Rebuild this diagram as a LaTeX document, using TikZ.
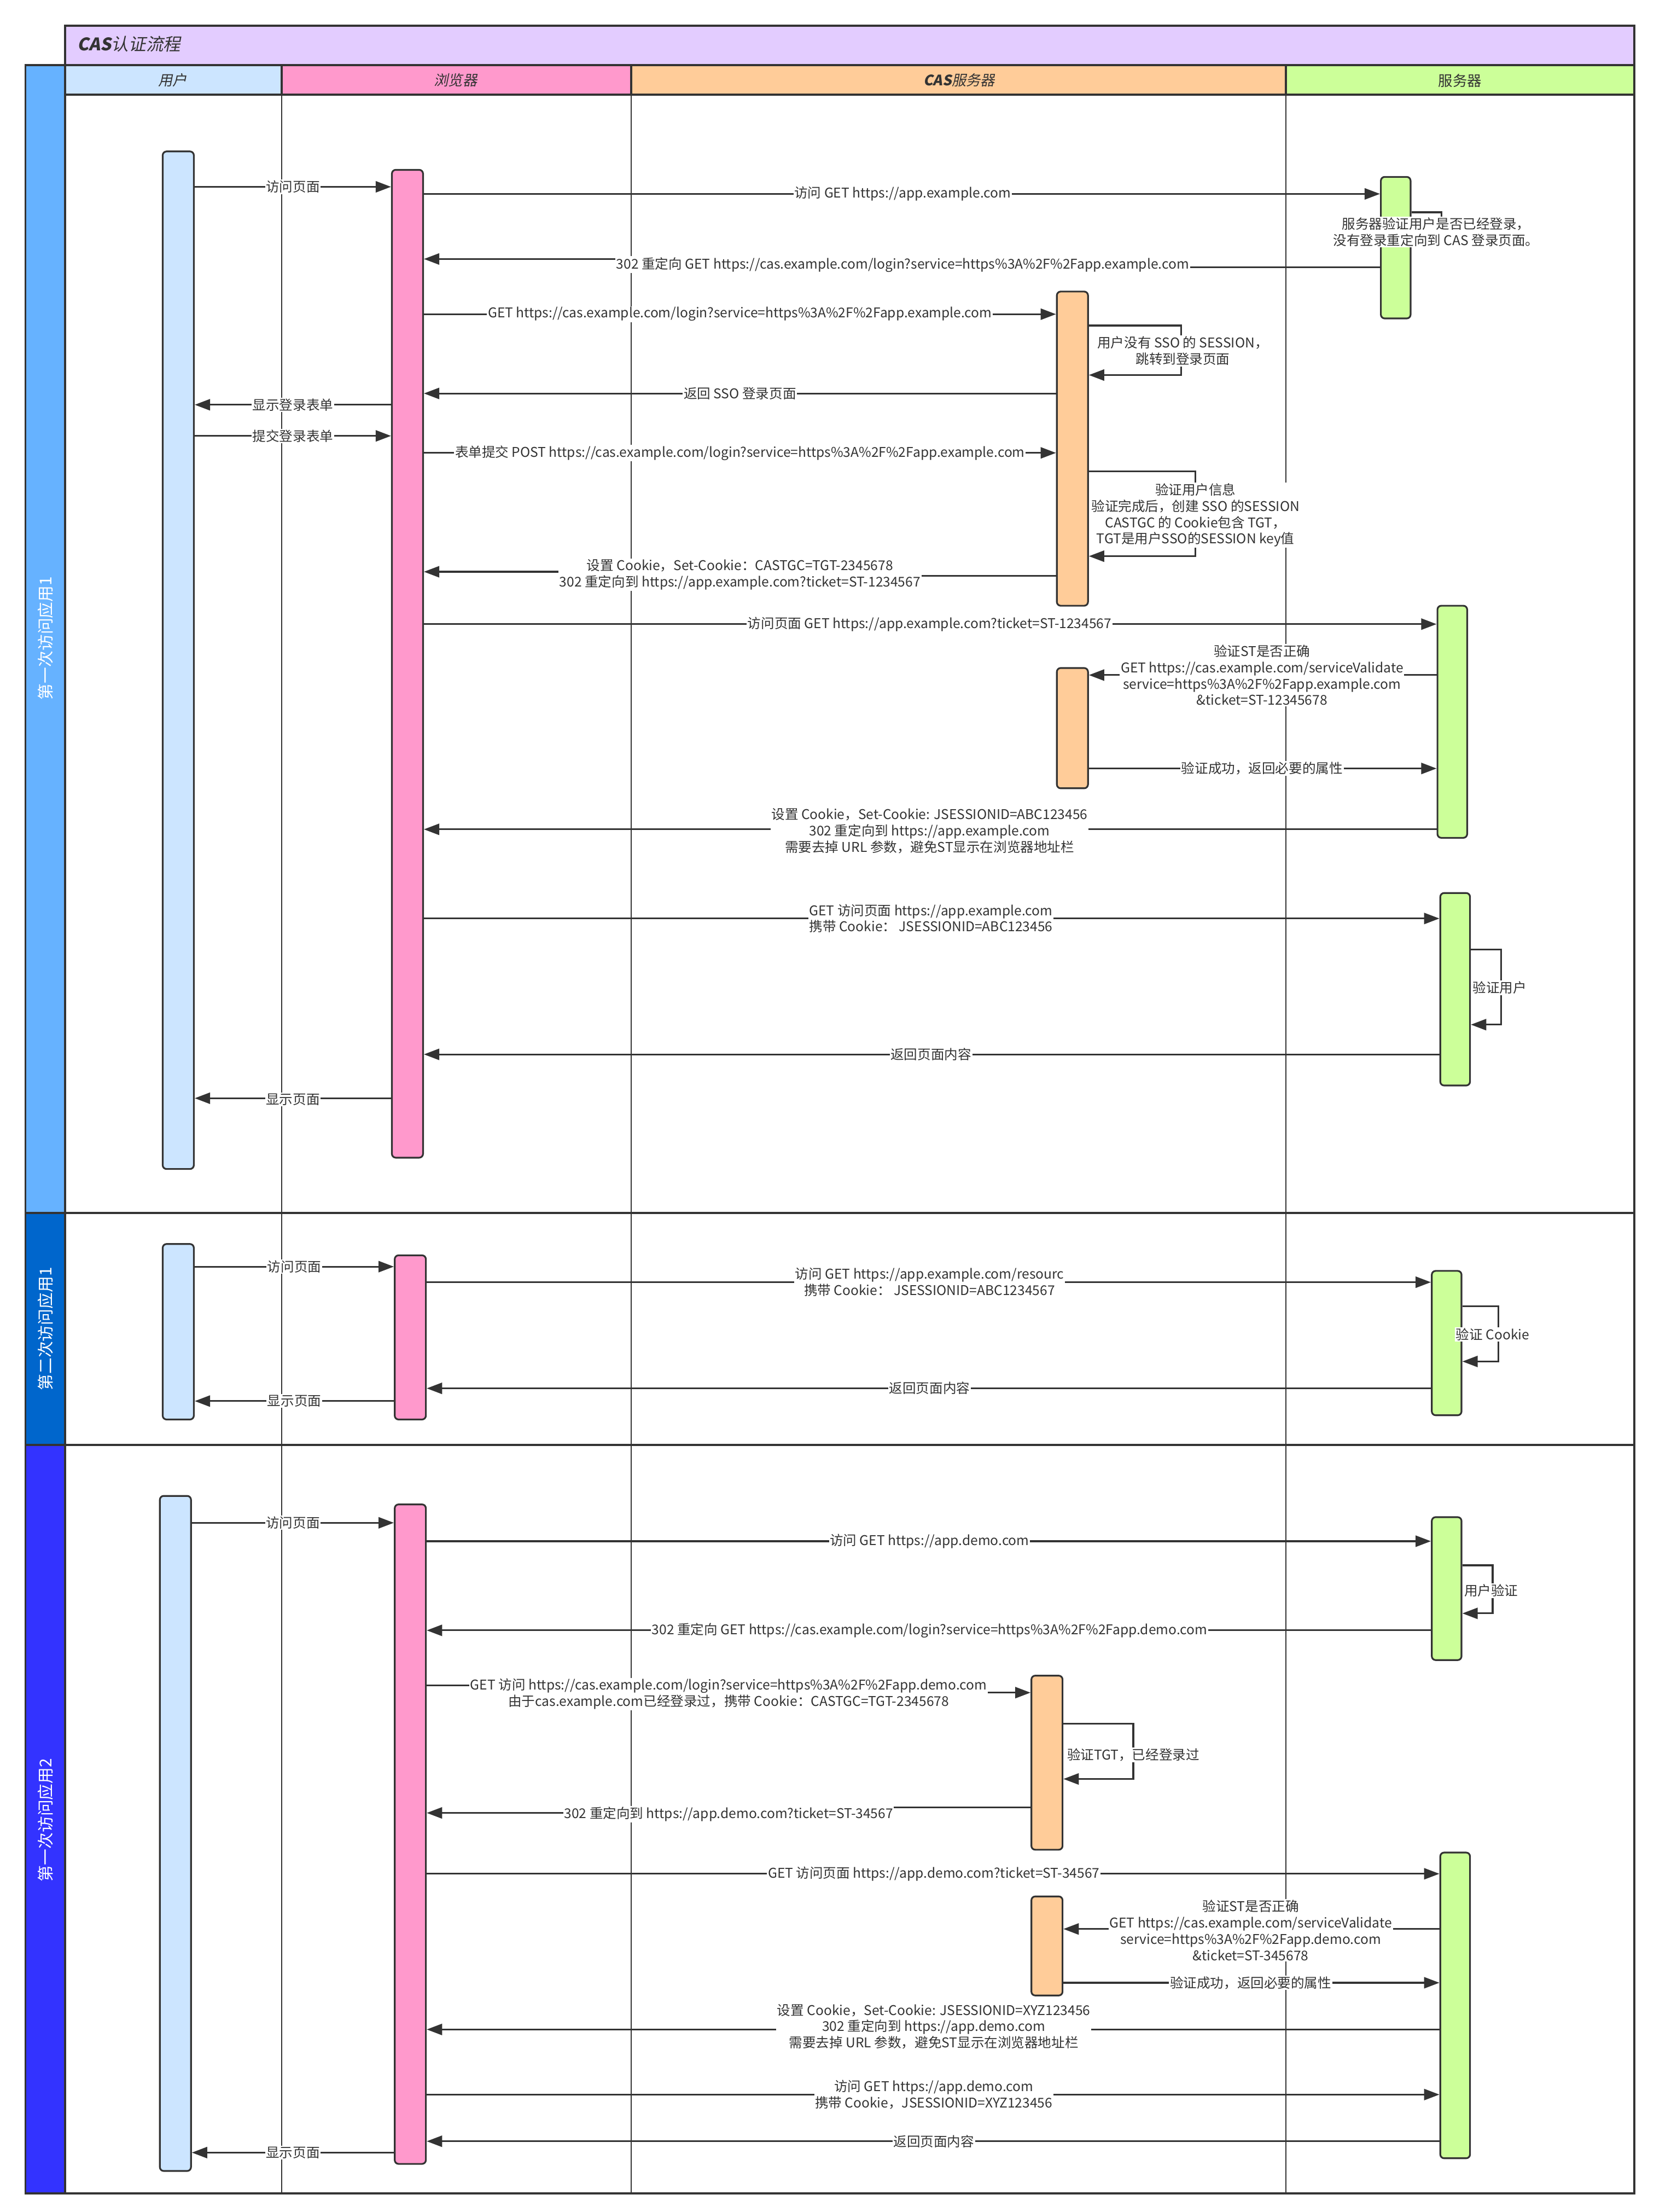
\documentclass[tikz,border=0pt]{standalone}
\usepackage{fontspec}
\setmainfont{Noto Sans CJK SC}
\newfontfamily\slantfont[FakeSlant=0.2]{Noto Sans CJK SC}
\usetikzlibrary{%
  arrows.meta,%
  fit%
}
\definecolor{ink}{HTML}{333333}
\definecolor{titlebg}{HTML}{E3CCFF}
\definecolor{userbg}{HTML}{CCE5FF}
\definecolor{browserbg}{HTML}{FF99CC}
\definecolor{casbg}{HTML}{FFCC99}
\definecolor{appbg}{HTML}{CCFF99}
\definecolor{bandone}{HTML}{66B2FF}
\definecolor{bandtwo}{HTML}{0066CC}
\definecolor{bandthree}{HTML}{3333FF}
\tikzset{>={Triangle[length=8pt,width=5.8pt]}}
\tikzset{
  act/.style={draw=ink,line width=0.9pt,rounded corners=2pt,inner sep=0pt},
  msg/.style={draw=ink,line width=0.9pt,->},
  lbl/.style={fill=white,inner sep=0.5pt,align=center,text=ink,font=\fontsize{7}{8.5}\selectfont},
  lane/.style={draw=ink,line width=0.6pt},
  frame/.style={draw=ink,line width=1.1pt},
  band/.style={text=white,rotate=90,font=\fontsize{8.5}{10}\selectfont},
  hdr/.style={text=ink,font=\fontsize{7.5}{9}\selectfont}
}

\begin{document}
\begin{tikzpicture}[x=0.0259cm,y=-0.0259cm]
    \useasboundingbox (0,0) rectangle (1169,1563);
    \draw[frame,fill=titlebg] (46,18) rectangle (1155,46);
    \node[anchor=west,text=ink,font={\slantfont\fontsize{9}{11}\selectfont}] (title) at (50,31) {{\bfseries CAS}认证流程};
    \draw[frame,fill=userbg] (46,46) rectangle (199,67);
    \draw[frame,fill=browserbg] (199,46) rectangle (446,67);
    \draw[frame,fill=casbg] (446,46) rectangle (909,67);
    \draw[frame,fill=appbg] (909,46) rectangle (1155,67);
    \node[hdr,font={\slantfont\fontsize{7.5}{9}\selectfont}] (huser) at (122,56.5) {用户};
    \node[hdr,font={\slantfont\fontsize{7.5}{9}\selectfont}] (hbrowser) at (322,56.5) {浏览器};
    \node[hdr,font={\slantfont\fontsize{7.5}{9}\selectfont}] (hcas) at (678,56.5) {{\bfseries CAS}服务器};
    \node[hdr] (happ) at (1032,57) {服务器};
    \draw[frame,fill=bandone] (18,46) rectangle (46,857);
    \draw[frame,fill=bandtwo] (18,857) rectangle (46,1021);
    \draw[frame,fill=bandthree] (18,1021) rectangle (46,1550);
    \node[band] (visitone) at (32,451) {第一次访问应用1};
    \node[band] (visittwo) at (32,939) {第二次访问应用1};
    \node[band] (visitthree) at (32,1286) {第一次访问应用2};
    \foreach \x in {199,446,909}
      \draw[lane] (\x,67) -- (\x,1550);
    \draw[frame] (46,67) rectangle (1155,857);
    \draw[frame] (46,857) rectangle (1155,1021);
    \draw[frame] (46,1021) rectangle (1155,1550);

    \node[act,fill=userbg,fit={(115,107) (137,826)}] (usr1) {};
    \node[act,fill=browserbg,fit={(277,120) (299,818)}] (brw1) {};
    \node[act,fill=appbg,fit={(976,125) (997,225)}] (app1a) {};
    \node[act,fill=casbg,fit={(747,206) (769,428)}] (cas1a) {};
    \node[act,fill=appbg,fit={(1016,428) (1037,592)}] (app1b) {};
    \node[act,fill=casbg,fit={(747,472) (769,557)}] (cas1b) {};
    \node[act,fill=appbg,fit={(1018,631) (1039,767)}] (app1c) {};
    \node[act,fill=userbg,fit={(115,879) (137,1003)}] (usr2) {};
    \node[act,fill=browserbg,fit={(279,887) (301,1003)}] (brw2) {};
    \node[act,fill=appbg,fit={(1012,898) (1033,1000)}] (app2) {};
    \node[act,fill=userbg,fit={(113,1057) (135,1534)}] (usr3) {};
    \node[act,fill=browserbg,fit={(279,1063) (301,1529)}] (brw3) {};
    \node[act,fill=appbg,fit={(1012,1072) (1033,1173)}] (app3a) {};
    \node[act,fill=casbg,fit={(729,1184) (751,1307)}] (cas3a) {};
    \node[act,fill=appbg,fit={(1018,1309) (1039,1525)}] (app3b) {};
    \node[act,fill=casbg,fit={(729,1340) (751,1410)}] (cas3b) {};

    \draw[msg] (usr1.east |- 0,132) -- (brw1.west |- 0,132);
    \node[lbl] (m1) at (207,132) {访问页面};
    \draw[msg] (brw1.east |- 0,137) -- (app1a.west |- 0,137);
    \node[lbl] (m2) at (638,137) {访问 GET https://app.example.com};
    \draw[msg] (app1a.east |- 0,150) -- (1019,150) -- (1019,170) -- (app1a.east |- 0,170);
    \node[lbl] (m3) at (1015,164) {服务器验证用户是否已经登录，\\没有登录重定向到 CAS 登录页面。};
    \draw[msg] (app1a.west |- 0,189) -| (638,186) |- (brw1.east |- 0,183);
    \node[lbl] (m4) at (638,187) {302 重定向 GET https://cas.example.com/login?service=https\%3A\%2F\%2Fapp.example.com};
    \draw[msg] (brw1.east |- 0,222) -- (cas1a.west |- 0,222);
    \node[lbl] (m5) at (523,222) {GET https://cas.example.com/login?service=https\%3A\%2F\%2Fapp.example.com};
    \draw[msg] (cas1a.east |- 0,230) -- (835,230) -- (835,265) -- (cas1a.east |- 0,265);
    \node[lbl] (m6) at (836,248) {用户没有 SSO 的 SESSION，\\跳转到登录页面};
    \draw[msg] (cas1a.west |- 0,278) -- (brw1.east |- 0,278);
    \node[lbl] (m7) at (523,278) {返回 SSO 登录页面};
    \draw[msg] (brw1.west |- 0,286) -- (usr1.east |- 0,286);
    \node[lbl] (m8) at (207,286) {显示登录表单};
    \draw[msg] (usr1.east |- 0,308) -- (brw1.west |- 0,308);
    \node[lbl] (m9) at (207,308) {提交登录表单};
    \draw[msg] (brw1.east |- 0,320) -- (cas1a.west |- 0,320);
    \node[lbl] (m10) at (523,320) {表单提交 POST https://cas.example.com/login?service=https\%3A\%2F\%2Fapp.example.com};
    \draw[msg] (cas1a.east |- 0,333) -- (845,333) -- (845,393) -- (cas1a.east |- 0,393);
    \node[lbl] (m11) at (845,364) {验证用户信息\\验证完成后，创建 SSO 的SESSION\\CASTGC 的 Cookie包含 TGT，\\TGT是用户SSO的SESSION key值};
    \draw[msg] (cas1a.west |- 0,407) -| (523,405) |- (brw1.east |- 0,404);
    \node[lbl] (m12) at (523,406) {设置 Cookie，Set-Cookie：CASTGC=TGT-2345678\\302 重定向到 https://app.example.com?ticket=ST-1234567};
    \draw[msg] (brw1.east |- 0,441) -- (app1b.west |- 0,441);
    \node[lbl] (m13) at (657,441) {访问页面 GET https://app.example.com?ticket=ST-1234567};
    \draw[msg] (app1b.west |- 0,477) -- (cas1b.east |- 0,477);
    \node[lbl] (m14) at (892,477) {验证ST是否正确\\GET https://cas.example.com/serviceValidate\\service=https\%3A\%2F\%2Fapp.example.com\\\&ticket=ST-12345678};
    \draw[msg] (cas1b.east |- 0,543) -- (app1b.west |- 0,543);
    \node[lbl] (m15) at (892,543) {验证成功，返回必要的属性};
    \draw[msg] (app1b.west |- 0,586) -- (brw1.east |- 0,586);
    \node[lbl] (m16) at (657,587) {设置 Cookie，Set-Cookie: JSESSIONID=ABC123456\\302 重定向到 https://app.example.com\\需要去掉 URL 参数，避免ST显示在浏览器地址栏};
    \draw[msg] (brw1.east |- 0,649) -- (app1c.west |- 0,649);
    \node[lbl] (m17) at (658,649) {GET 访问页面 https://app.example.com\\携带 Cookie： JSESSIONID=ABC123456};
    \draw[msg] (app1c.east |- 0,671) -- (1061,671) -- (1061,724) -- (app1c.east |- 0,724);
    \node[lbl] (m18) at (1060,698) {验证用户};
    \draw[msg] (app1c.west |- 0,745) -- (brw1.east |- 0,745);
    \node[lbl] (m19) at (658,745) {返回页面内容};
    \draw[msg] (brw1.west |- 0,776) -- (usr1.east |- 0,776);
    \node[lbl] (m20) at (207,777) {显示页面};

    \draw[msg] (usr2.east |- 0,895) -- (brw2.west |- 0,895);
    \node[lbl] (n1) at (208,895) {访问页面};
    \draw[msg] (brw2.east |- 0,906) -- (app2.west |- 0,906);
    \node[lbl] (n2) at (657,906) {访问 GET https://app.example.com/resourc\\携带 Cookie： JSESSIONID=ABC1234567};
    \draw[msg] (app2.east |- 0,923) -- (1059,923) -- (1059,962) -- (app2.east |- 0,962);
    \node[lbl] (n3) at (1055,943) {验证 Cookie};
    \draw[msg] (app2.west |- 0,981) -- (brw2.east |- 0,981);
    \node[lbl] (n4) at (657,981) {返回页面内容};
    \draw[msg] (brw2.west |- 0,990) -- (usr2.east |- 0,990);
    \node[lbl] (n5) at (208,990) {显示页面};

    \draw[msg] (usr3.east |- 0,1076) -- (brw3.west |- 0,1076);
    \node[lbl] (p1) at (207,1076) {访问页面};
    \draw[msg] (brw3.east |- 0,1089) -- (app3a.west |- 0,1089);
    \node[lbl] (p2) at (657,1089) {访问 GET https://app.demo.com};
    \draw[msg] (app3a.east |- 0,1106) -- (1055,1106) -- (1055,1140) -- (app3a.east |- 0,1140);
    \node[lbl] (p3) at (1054,1124) {用户验证};
    \draw[msg] (app3a.west |- 0,1152) -- (brw3.east |- 0,1152);
    \node[lbl] (p4) at (657,1152) {302 重定向 GET https://cas.example.com/login?service=https\%3A\%2F\%2Fapp.demo.com};
    \draw[msg] (brw3.east |- 0,1191) -| (515,1194) |- (cas3a.west |- 0,1196);
    \node[lbl] (p5) at (515,1197) {GET 访问 https://cas.example.com/login?service=https\%3A\%2F\%2Fapp.demo.com\\由于cas.example.com已经登录过，携带 Cookie：CASTGC=TGT-2345678};
    \draw[msg] (cas3a.east |- 0,1218) -- (801,1218) -- (801,1257) -- (cas3a.east |- 0,1257);
    \node[lbl] (p6) at (801,1240) {验证TGT，已经登录过};
    \draw[msg] (cas3a.west |- 0,1277) -| (515,1279) |- (brw3.east |- 0,1281);
    \node[lbl] (p7) at (515,1282) {302 重定向到 https://app.demo.com?ticket=ST-34567};
    \draw[msg] (brw3.east |- 0,1324) -- (app3b.west |- 0,1324);
    \node[lbl] (p8) at (660,1324) {GET 访问页面 https://app.demo.com?ticket=ST-34567};
    \draw[msg] (app3b.west |- 0,1363) -- (cas3b.east |- 0,1363);
    \node[lbl] (p9) at (884,1364) {验证ST是否正确\\GET https://cas.example.com/serviceValidate\\service=https\%3A\%2F\%2Fapp.demo.com\\\&ticket=ST-345678};
    \draw[msg] (cas3b.east |- 0,1401) -- (app3b.west |- 0,1401);
    \node[lbl] (p10) at (884,1401) {验证成功，返回必要的属性};
    \draw[msg] (app3b.west |- 0,1434) -- (brw3.east |- 0,1434);
    \node[lbl] (p11) at (660,1432) {设置 Cookie，Set-Cookie: JSESSIONID=XYZ123456\\302 重定向到 https://app.demo.com\\需要去掉 URL 参数，避免ST显示在浏览器地址栏};
    \draw[msg] (brw3.east |- 0,1480) -- (app3b.west |- 0,1480);
    \node[lbl] (p12) at (660,1480) {访问 GET https://app.demo.com\\携带 Cookie，JSESSIONID=XYZ123456};
    \draw[msg] (app3b.west |- 0,1513) -- (brw3.east |- 0,1513);
    \node[lbl] (p13) at (660,1513) {返回页面内容};
    \draw[msg] (brw3.west |- 0,1521) -- (usr3.east |- 0,1521);
    \node[lbl] (p14) at (207,1521) {显示页面};
  \end{tikzpicture}
\end{document}
